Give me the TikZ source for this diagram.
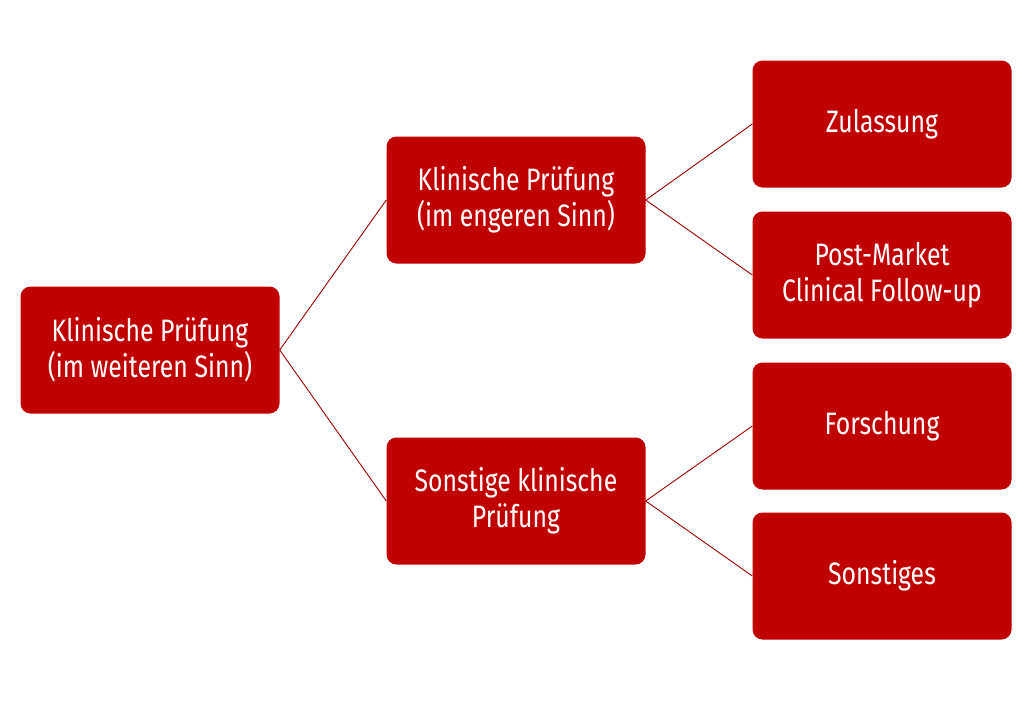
\documentclass[tikz,border=0pt]{standalone}
\usepackage{fontspec}
\setmainfont[FakeStretch=0.8]{Fira Sans}
\definecolor{boxred}{HTML}{C00000}
\begin{document}
\begin{tikzpicture}[x=1pt,y=-1pt,
  box/.style={fill=boxred,rounded corners=10pt,minimum width=259pt,minimum height=127pt,
    text=white,align=center,font=\fontsize{31}{36}\selectfont,inner sep=0pt},
  link/.style={draw=boxred!80!black,line width=0.9pt}]
\useasboundingbox (0,0) rectangle (1024,702);
\fill[white] (0,0) rectangle (1024,702);
\node[box] (a) at (150,350) {Klinische Prüfung\\(im weiteren Sinn)};
\node[box] (b) at (516,200) {Klinische Prüfung\\(im engeren Sinn)};
\node[box] (c) at (516,501) {Sonstige klinische\\Prüfung};
\node[box] (d) at (882,124) {Zulassung};
\node[box] (e) at (882,275) {Post-Market\\Clinical Follow-up};
\node[box] (f) at (882,426) {Forschung};
\node[box] (g) at (882,576) {Sonstiges};
\draw[link] (a.east) -- (b.west);
\draw[link] (a.east) -- (c.west);
\draw[link] (b.east) -- (d.west);
\draw[link] (b.east) -- (e.west);
\draw[link] (c.east) -- (f.west);
\draw[link] (c.east) -- (g.west);
\end{tikzpicture}
\end{document}
